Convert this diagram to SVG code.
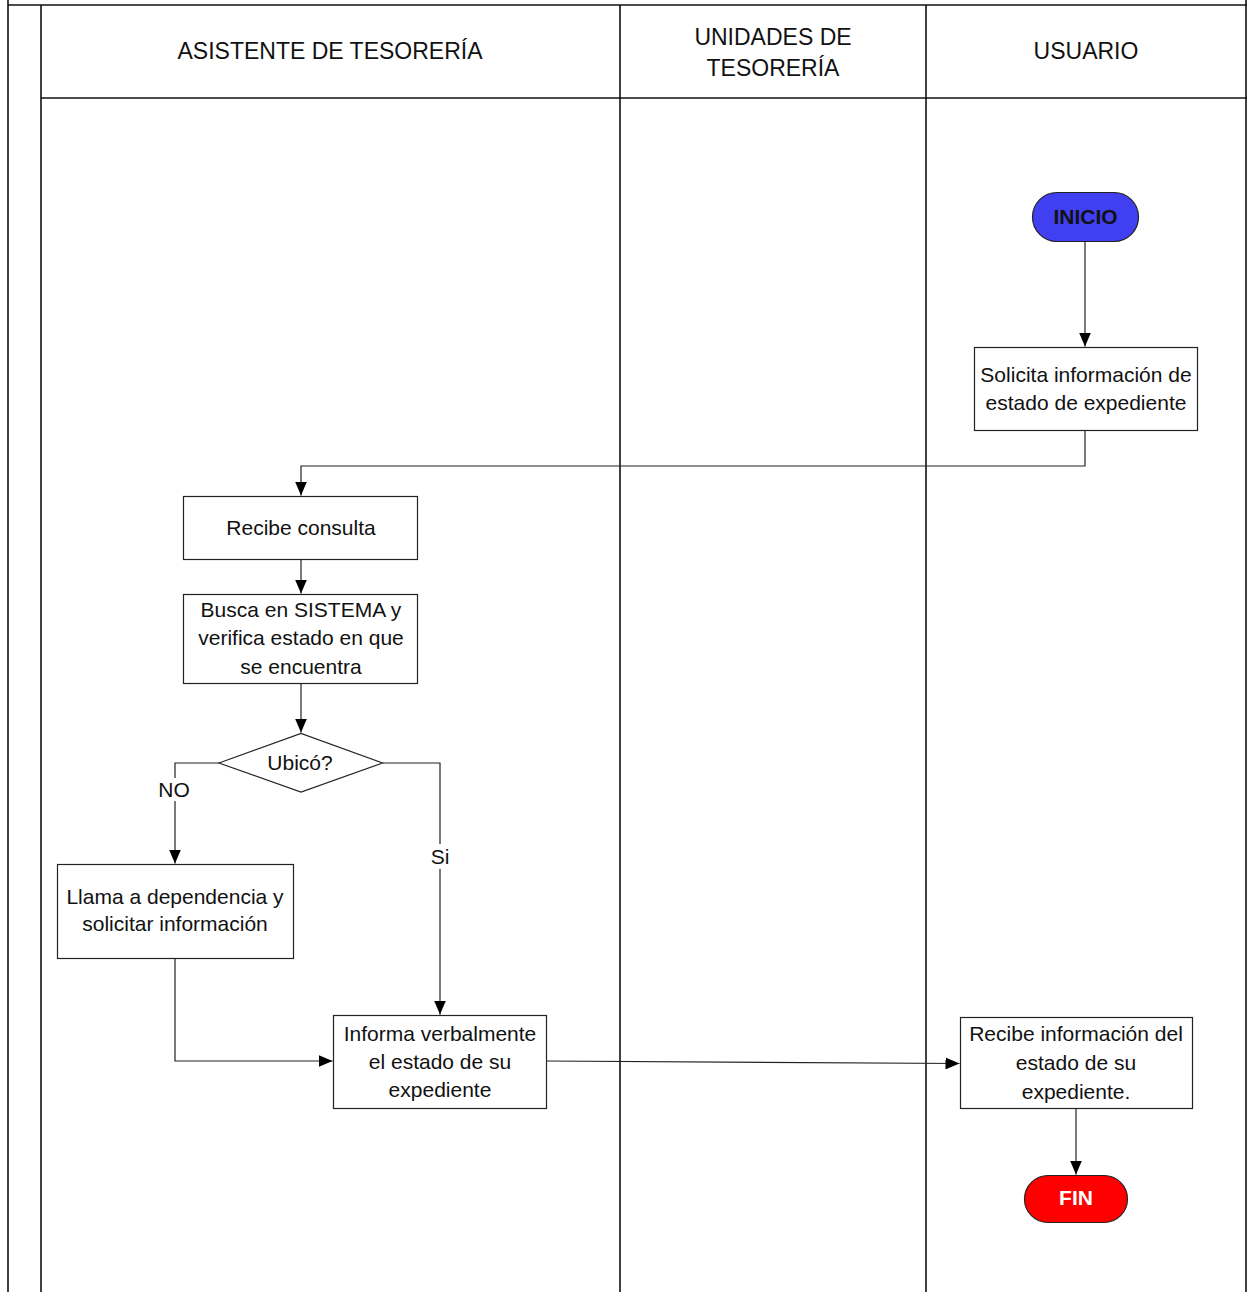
<svg xmlns="http://www.w3.org/2000/svg" width="1247" height="1292" viewBox="0 0 1247 1292">
  <defs>
    <marker id="arrow" markerUnits="userSpaceOnUse" markerWidth="14" markerHeight="12" refX="14" refY="6" orient="auto">
      <path d="M0,0 L14,6 L0,12 Z" fill="#000"/>
    </marker>
    <style>
      .lane { stroke: #111; stroke-width: 1.6; fill: none; }
      .box { fill: #fff; stroke: #222; stroke-width: 1.2; }
      .edge { stroke: #222; stroke-width: 1.2; fill: none; }
      .hdr { font-family: "Liberation Sans", Arial, sans-serif; font-size: 23px; fill: #111; text-anchor: middle; }
      .txt { font-family: "Liberation Sans", Arial, sans-serif; font-size: 21px; fill: #111; text-anchor: middle; }
      .term { font-family: "Liberation Sans", Arial, sans-serif; font-size: 21px; font-weight: bold; text-anchor: middle; }
    </style>
  </defs>

  <rect width="1247" height="1292" fill="#fff"/>

  <!-- swimlane frame -->
  <g id="lanes">
    <line class="lane" x1="8" y1="0" x2="8" y2="1292"/>
    <line class="lane" x1="8" y1="5" x2="1247" y2="5"/>
    <line class="lane" x1="41" y1="5" x2="41" y2="1292"/>
    <line class="lane" x1="41" y1="98" x2="1247" y2="98"/>
    <line class="lane" x1="620" y1="5" x2="620" y2="1292"/>
    <line class="lane" x1="926" y1="5" x2="926" y2="1292"/>
    <line class="lane" x1="1246" y1="0" x2="1246" y2="1292"/>
    <text class="hdr" x="330" y="58.5">ASISTENTE DE TESORERÍA</text>
    <text class="hdr" x="773" y="44.5">UNIDADES DE</text>
    <text class="hdr" x="773" y="76">TESORERÍA</text>
    <text class="hdr" x="1086" y="59">USUARIO</text>
  </g>

  <!-- connectors -->
  <g id="connectors">
    <line class="edge" x1="1085" y1="241.5" x2="1085" y2="346.5" marker-end="url(#arrow)"/>
    <polyline class="edge" points="1085,430.5 1085,466 301,466 301,495.5" marker-end="url(#arrow)"/>
    <line class="edge" x1="301" y1="559.5" x2="301" y2="593.5" marker-end="url(#arrow)"/>
    <line class="edge" x1="301" y1="683.5" x2="301" y2="732.5" marker-end="url(#arrow)"/>
    <polyline class="edge" points="219,763 175,763 175,778"/>
    <line class="edge" x1="175" y1="801" x2="175" y2="863.5" marker-end="url(#arrow)"/>
    <text class="txt" x="174" y="796.5">NO</text>
    <polyline class="edge" points="383,763 440,763 440,844"/>
    <line class="edge" x1="440" y1="869" x2="440" y2="1014.5" marker-end="url(#arrow)"/>
    <text class="txt" x="440" y="864">Si</text>
    <polyline class="edge" points="175,958.5 175,1061 332.5,1061" marker-end="url(#arrow)"/>
    <line class="edge" x1="546.5" y1="1061" x2="959.5" y2="1063.5" marker-end="url(#arrow)"/>
    <line class="edge" x1="1076" y1="1108.5" x2="1076" y2="1174.5" marker-end="url(#arrow)"/>
  </g>

  <g id="inicio">
    <rect x="1032.5" y="192.5" width="106" height="49" rx="24.5" fill="#4040F2" stroke="#222" stroke-width="1.2"/>
    <text class="term" x="1085.5" y="223.5" fill="#111">INICIO</text>
  </g>

  <g id="solicita">
    <rect class="box" x="974.5" y="347.5" width="223" height="83"/>
    <text class="txt" x="1086" y="381.5">Solicita información de</text>
    <text class="txt" x="1086" y="410">estado de expediente</text>
  </g>

  <g id="recibe-consulta">
    <rect class="box" x="183.5" y="496.5" width="234" height="63"/>
    <text class="txt" x="301" y="535">Recibe consulta</text>
  </g>

  <g id="busca">
    <rect class="box" x="183.5" y="594.5" width="234" height="89"/>
    <text class="txt" x="301" y="616.5">Busca en SISTEMA y</text>
    <text class="txt" x="301" y="645">verifica estado en que</text>
    <text class="txt" x="301" y="673.5">se encuentra</text>
  </g>

  <g id="ubico">
    <polygon class="box" points="219,763 301,733.5 382.5,763 301,792"/>
    <text class="txt" x="300" y="770">Ubicó?</text>
  </g>

  <g id="llama">
    <rect class="box" x="57.5" y="864.5" width="236" height="94"/>
    <text class="txt" x="175" y="903.5">Llama a dependencia y</text>
    <text class="txt" x="175" y="930.5">solicitar información</text>
  </g>

  <g id="informa">
    <rect class="box" x="333.5" y="1015.5" width="213" height="93"/>
    <text class="txt" x="440" y="1040.5">Informa verbalmente</text>
    <text class="txt" x="440" y="1068.5">el estado de su</text>
    <text class="txt" x="440" y="1097">expediente</text>
  </g>

  <g id="recibe-informacion">
    <rect class="box" x="960.5" y="1017.5" width="232" height="91"/>
    <text class="txt" x="1076" y="1040.5">Recibe información del</text>
    <text class="txt" x="1076" y="1069.5">estado de su</text>
    <text class="txt" x="1076" y="1098.5">expediente.</text>
  </g>

  <g id="fin">
    <rect x="1024.5" y="1175.5" width="103" height="47" rx="23.5" fill="#FF0000" stroke="#222" stroke-width="1.2"/>
    <text class="term" x="1076" y="1205" fill="#fff">FIN</text>
  </g>
</svg>
